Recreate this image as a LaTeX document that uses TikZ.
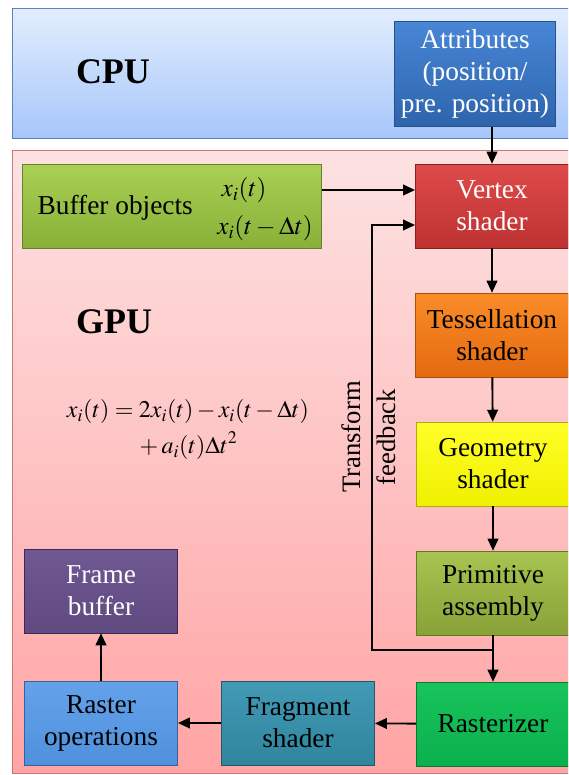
\documentclass[tikz,border=0pt]{standalone}
\usepackage{amsmath,amssymb}
\usepackage{mathptmx}
\usepackage{fontspec}
\setmainfont{Liberation Serif}
\usepackage{xcolor}
\usetikzlibrary{arrows.meta,positioning}

\definecolor{cpuTop}{RGB}{226,238,254}
\definecolor{cpuBot}{RGB}{166,198,250}
\definecolor{gpuTop}{RGB}{253,226,226}
\definecolor{gpuBot}{RGB}{255,164,164}

\begin{document}
\begin{tikzpicture}[x=0.75pt,y=0.75pt,yscale=-1,xscale=1,
  box/.style={minimum width=115pt,minimum height=63pt,inner sep=2pt,align=center,
    font=\rmfamily\fontsize{20.5}{24}\selectfont},
  flow/.style={line width=1.4pt,-{Triangle[length=9pt,width=8pt]}}]

\useasboundingbox (0,0) rectangle (568,775);
\clip (0,0) rectangle (568,775);

% regions
\draw [color={rgb, 255:red, 90; green, 130; blue, 190 }, top color=cpuTop, bottom color=cpuBot] (12,8) rectangle (580,138);
\draw [color={rgb, 255:red, 205; green, 120; blue, 120 }, top color=gpuTop, bottom color=gpuBot] (12,150) rectangle (580,773);

\node [font=\rmfamily\fontsize{27}{32}\selectfont\bfseries] (cpu) at (113,72) {CPU};
\node [font=\rmfamily\fontsize{27}{32}\selectfont\bfseries] (gpu) at (114,322) {GPU};

% stages
\node [box, minimum width=121pt, minimum height=79pt, text=white, draw={rgb,255:red,40;green,80;blue,140}, top color={rgb,255:red,72;green,134;blue,214}, bottom color={rgb,255:red,46;green,100;blue,172}] (attr) at (475,74) {Attributes\\(position/\\pre. position)};
\node [box, text=white, draw={rgb,255:red,140;green,30;blue,30}, top color={rgb,255:red,222;green,74;blue,74}, bottom color={rgb,255:red,190;green,50;blue,50}] (vertex) at (492,206) {Vertex\\shader};
\node [box, minimum width=224pt, draw={rgb,255:red,100;green,130;blue,40}, top color={rgb,255:red,170;green,208;blue,84}, bottom color={rgb,255:red,136;green,176;blue,56}] (buffer) at (172,206) {};
\node [box, draw={rgb,255:red,170;green,80;blue,10}, top color={rgb,255:red,250;green,140;blue,40}, bottom color={rgb,255:red,228;green,106;blue,16}] (tess) at (492,335) {Tessellation\\shader};
\node [box, draw={rgb,255:red,170;green,170;blue,20}, top color={rgb,255:red,255;green,255;blue,40}, bottom color={rgb,255:red,240;green,240;blue,0}] (geom) at (493,464) {Geometry\\shader};
\node [box, draw={rgb,255:red,100;green,120;blue,40}, top color={rgb,255:red,168;green,196;blue,80}, bottom color={rgb,255:red,136;green,162;blue,56}] (prim) at (493,593) {Primitive\\assembly};
\node [box, draw={rgb,255:red,10;green,120;blue,50}, top color={rgb,255:red,24;green,196;blue,92}, bottom color={rgb,255:red,10;green,176;blue,76}] (rast) at (493,724) {Rasterizer};
\node [box, draw={rgb,255:red,30;green,90;blue,110}, top color={rgb,255:red,66;green,154;blue,180}, bottom color={rgb,255:red,48;green,132;blue,158}] (frag) at (298,723) {Fragment\\shader};
\node [box, draw={rgb,255:red,50;green,100;blue,160}, top color={rgb,255:red,100;green,162;blue,234}, bottom color={rgb,255:red,80;green,144;blue,220}] (rop) at (101,723) {Raster\\operations};
\node [box, text=white, draw={rgb,255:red,60;green,40;blue,90}, top color={rgb,255:red,112;green,88;blue,146}, bottom color={rgb,255:red,96;green,74;blue,128}] (frame) at (101,591) {Frame\\buffer};

% buffer contents
\node [anchor=west, font=\rmfamily\fontsize{20.5}{24}\selectfont] (buflabel) at (33,208) {Buffer objects};
\node [font=\fontsize{19}{23}\selectfont] (bufcur) at (244,190) {$x_i(t)$};
\node [font=\fontsize{19}{23}\selectfont] (bufprev) at (265,228) {$x_i(t-\Delta t)$};

% equation
\node [font=\fontsize{18}{22}\selectfont] (verlet) at (188,430) {$\begin{aligned} x_i(t) &= 2x_i(t)-x_i(t-\Delta t)\\ &\phantom{=}\;\, +a_i(t)\Delta t^2\end{aligned}$};

% transform feedback
\coordinate (fbturn) at (492,650);
\coordinate (fbleft) at (372,650);
\coordinate (fbtop) at (372,225);
\node [rotate=90, align=center, font=\rmfamily\fontsize{20}{26}\selectfont] (fblabel) at (369,437) {Transform\\feedback};

% connectors
\draw [flow] (attr.south -| vertex.north) -- (vertex.north);
\draw [flow] (buffer.east |- bufcur) -- (vertex.west |- bufcur);
\draw [flow] (vertex) -- (tess);
\draw [flow] (tess) -- (geom);
\draw [flow] (geom) -- (prim);
\draw [flow] (prim) -- (rast);
\draw [flow] (fbturn) -- (fbleft) -- (fbtop) -- (vertex.west |- fbtop);
\draw [flow] (rast) -- (frag);
\draw [flow] (frag) -- (rop);
\draw [flow] (rop) -- (frame);

\end{tikzpicture}
\end{document}
